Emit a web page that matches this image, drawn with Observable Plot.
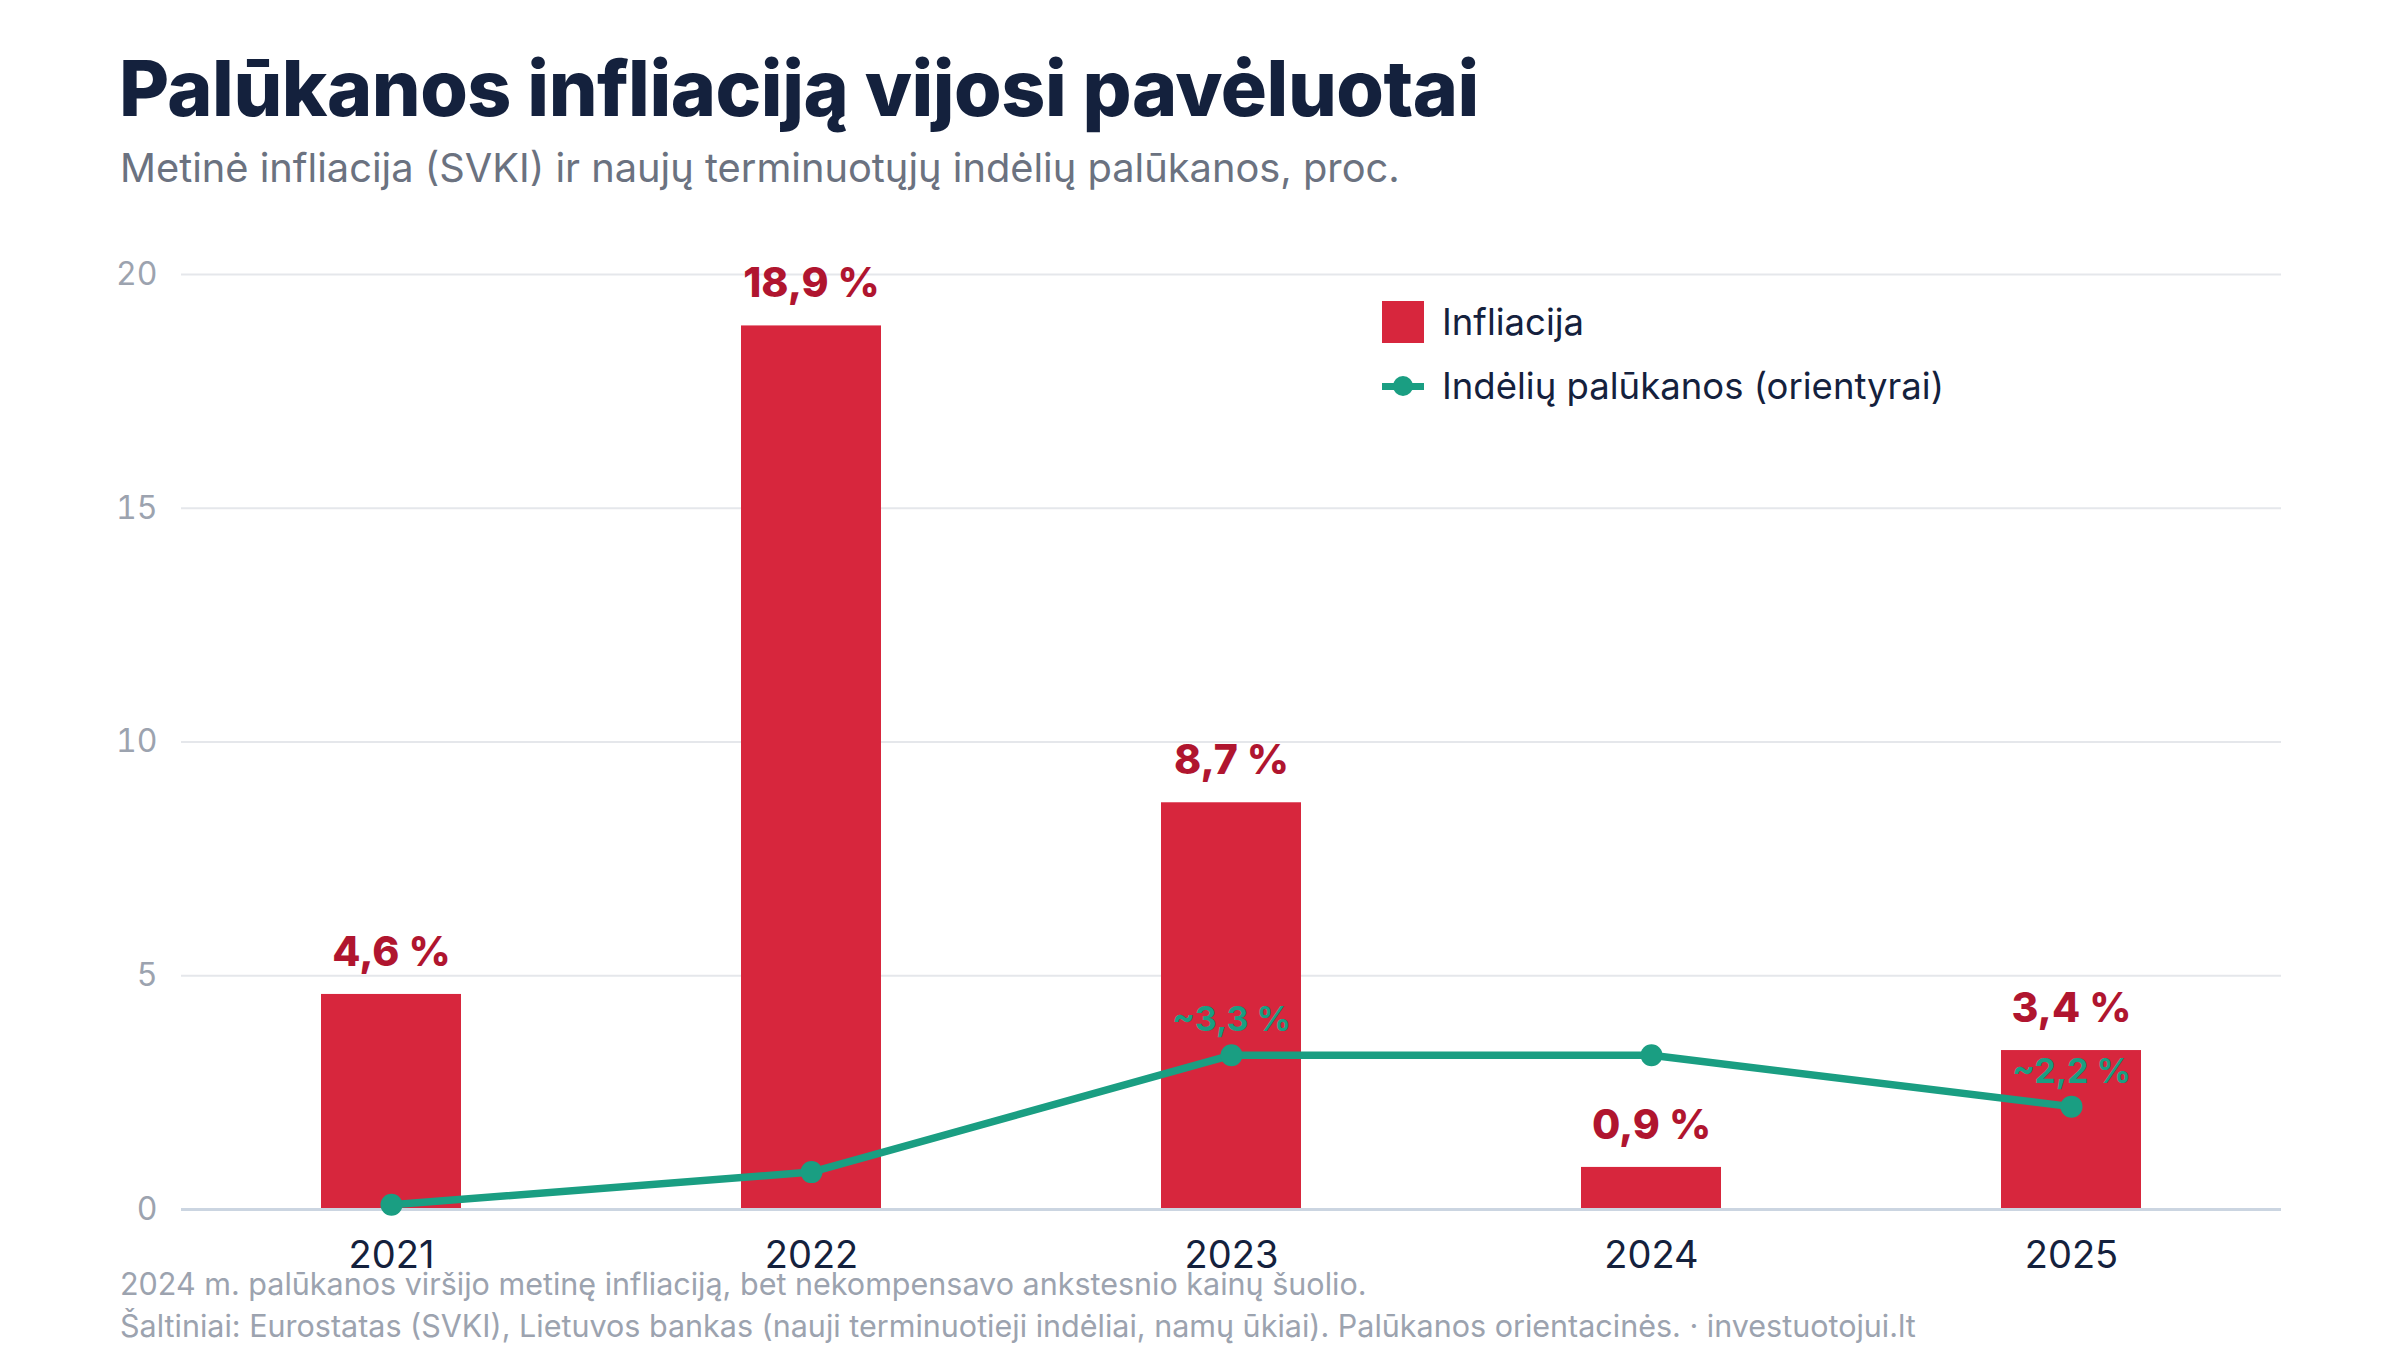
<!DOCTYPE html>
<html><head><meta charset="utf-8">
<script src="https://cdn.jsdelivr.net/npm/d3@7"></script>
<script src="https://cdn.jsdelivr.net/npm/@observablehq/plot@0.6"></script>
<style>
html,body{margin:0;padding:0;background:#fff;}
#wrap{position:relative;width:2400px;height:1350px;overflow:hidden;font-family:Inter,"Noto Sans",sans-serif;background:#fff;}
#title{position:absolute;left:119px;top:41px;font-size:77px;font-weight:800;color:#14213d;letter-spacing:-0.5px;white-space:nowrap;}
#subtitle{position:absolute;left:120px;top:143px;font-size:39.8px;font-weight:400;color:#6b7280;white-space:nowrap;}
#chart{position:absolute;left:0;top:220px;}
#legend{position:absolute;left:1382px;top:298px;font-size:36.5px;color:#14213d;}
.lg{display:flex;align-items:center;height:48px;margin-bottom:16px;white-space:nowrap;}
.sw{width:42px;height:42px;background:#d7263d;margin-right:18px;}
.ln{position:relative;width:42px;height:42px;margin-right:18px;}
.ln .bar{position:absolute;left:0;top:18px;width:42px;height:7px;background:#1a9e82;}
.ln .dot{position:absolute;left:11px;top:11px;width:20px;height:20px;border-radius:50%;background:#1a9e82;}
#foot{position:absolute;left:120px;top:1263px;font-size:30.5px;color:#9ca3af;line-height:42px;white-space:nowrap;}
</style></head>
<body><div id="wrap">
<div id="title">Palūkanos infliaciją vijosi pavėluotai</div>
<div id="subtitle">Metinė infliacija (SVKI) ir naujų terminuotųjų indėlių palūkanos, proc.</div>
<div id="chart"></div>
<div id="legend">
<div class="lg"><div class="sw"></div>Infliacija</div>
<div class="lg"><div class="ln"><div class="bar"></div><div class="dot"></div></div>Indėlių palūkanos (orientyrai)</div>
</div>
<div id="foot">2024 m. palūkanos viršijo metinę infliaciją, bet nekompensavo ankstesnio kainų šuolio.<br>Šaltiniai: Eurostatas (SVKI), Lietuvos bankas (nauji terminuotieji indėliai, namų ūkiai). Palūkanos orientacinės. · investuotojui.lt</div>
</div>
<script>
const years = ["2021","2022","2023","2024","2025"];
const inflation = [4.6, 18.9, 8.7, 0.9, 3.4];
const deposit = [0.1, 0.8, 3.3, 3.3, 2.2];
const depositLabels = ["", "", "~3,3 %", "", "~2,2 %"];
const yTicks = [0, 5, 10, 15, 20];

const fmt = v => v.toFixed(1).replace(".", ",") + " %";
const bars = years.map((y, i) => ({year: y, value: inflation[i], label: fmt(inflation[i])}));
const line = years.map((y, i) => ({year: y, value: deposit[i], label: depositLabels[i]}));

const chart = Plot.plot({
  width: 2400,
  height: 1060,
  marginLeft: 181,
  marginRight: 119,
  marginTop: 54,
  marginBottom: 71,
  style: {fontFamily: "Inter, 'Noto Sans', sans-serif", background: "transparent"},
  x: {domain: years, paddingInner: 2/3, paddingOuter: 1/3, label: null},
  y: {domain: [0, 20], label: null},
  marks: [
    Plot.gridY(yTicks.filter(d => d > 0), {stroke: "#e5e7eb", strokeOpacity: 1, strokeWidth: 2}),
    Plot.axisY(yTicks, {tickSize: 0, tickPadding: 24, fontSize: 32, fill: "#9ca3af", label: null}),
    Plot.axisX({tickSize: 0, tickPadding: 32, fontSize: 38, fill: "#14213d", label: null}),
    Plot.barY(bars, {x: "year", y: "value", fill: "#d7263d"}),
    Plot.ruleY([0], {stroke: "#cbd5e1", strokeWidth: 3}),
    Plot.text(bars, {x: "year", y: "value", text: "label", dy: -42, fontSize: 41, fontWeight: 800, fill: "#b0152f"}),
    Plot.line(line, {x: "year", y: "value", stroke: "#1a9e82", strokeWidth: 7.5}),
    Plot.dot(line, {x: "year", y: "value", r: 11, fill: "#1a9e82"}),
    Plot.text(line, {x: "year", y: "value", text: "label", dy: -35, fontSize: 34, fontWeight: 700, fill: "#1a9e82"})
  ]
});
document.getElementById("chart").appendChild(chart);
</script>
</body></html>
